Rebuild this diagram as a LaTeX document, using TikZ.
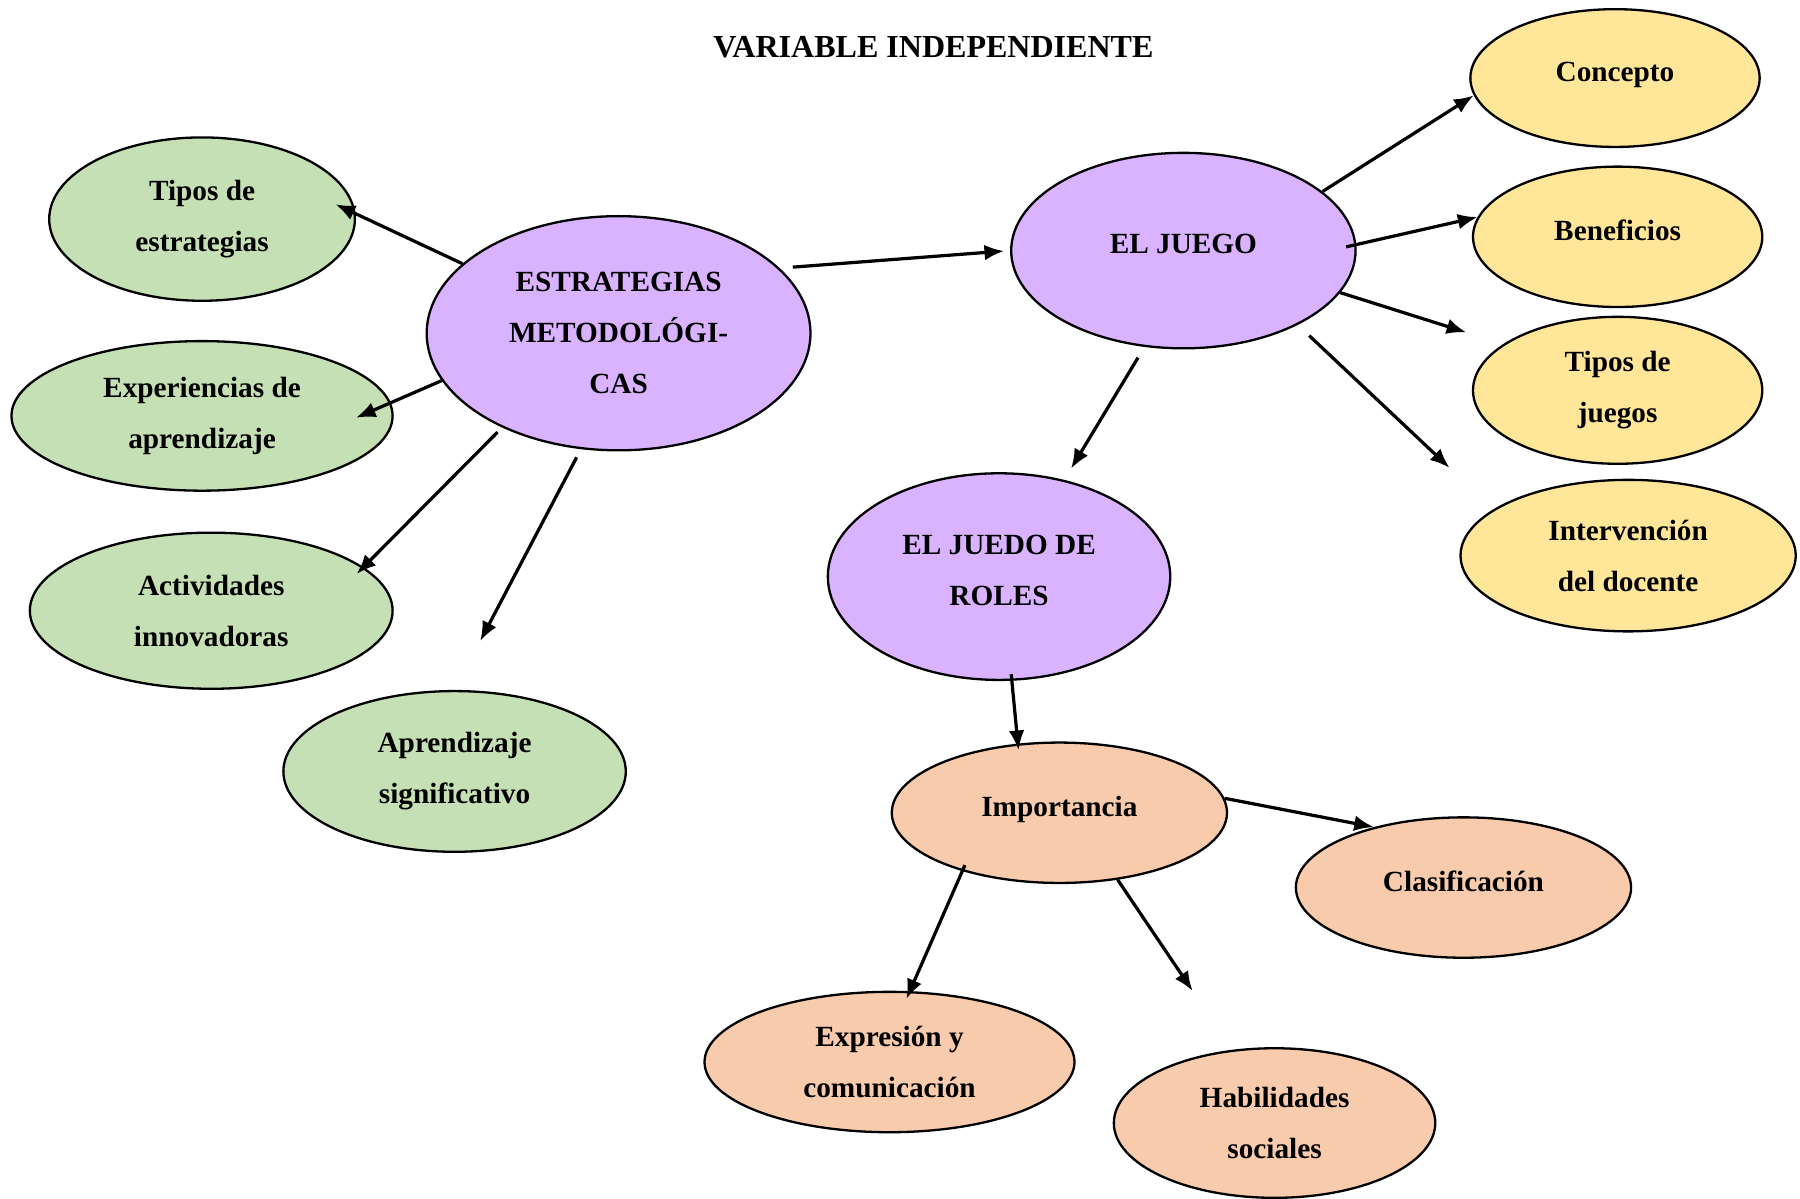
\documentclass[tikz,border=0pt]{standalone}
\usepackage{fontspec}
\setmainfont{Liberation Serif}
\usetikzlibrary{shapes.geometric,arrows.meta}
\definecolor{verde}{HTML}{C5E0B4}
\definecolor{lila}{HTML}{D9B3FF}
\definecolor{amarillo}{HTML}{FFE699}
\definecolor{durazno}{HTML}{F8CBAD}
\tikzset{
 nodo/.style
  = {ellipse, draw, line width=1pt, inner sep=0pt, align=center,
     font=\fontsize{12.7}{22.2}\selectfont\bfseries},
 nv/.style
  = {nodo, fill=verde},
 nm/.style
  = {nodo, fill=lila},
 na/.style
  = {nodo, fill=amarillo},
 nd/.style
  = {nodo, fill=durazno},
 sube/.style
  = {text depth=0.2cm},
 l/.style
  = {draw, line width=1.4pt, -{Latex[length=3mm,width=2.4mm]}},
}

\begin{document}
\begin{tikzpicture}
\useasboundingbox (0,0) rectangle (27.44,-18.27);

% Title
\node[font=\fontsize{13.9}{16}\selectfont\bfseries] (titulo) at (14.23,-0.72) {VARIABLE INDEPENDIENTE};

% Estrategias
\node[nm, minimum width=5.85cm, minimum height=3.57cm] (E) at (9.43,-5.08) {ESTRATEGIAS\\METODOLÓGI-\\CAS};
\node[nv, minimum width=4.66cm, minimum height=2.49cm] (E1) at (3.08,-3.34) {Tipos de\\estrategias};
\node[nv, minimum width=5.81cm, minimum height=2.28cm] (E2) at (3.08,-6.34) {Experiencias de\\aprendizaje};
\node[nv, minimum width=5.53cm, minimum height=2.38cm] (E3) at (3.22,-9.31) {Actividades\\innovadoras};
\node[nv, minimum width=5.22cm, minimum height=2.45cm] (E4) at (6.93,-11.76) {Aprendizaje\\significativo};

% El juego
\node[nm, sube, minimum width=5.25cm, minimum height=2.98cm] (J) at (18.04,-3.82) {EL JUEGO};
\node[na, sube, minimum width=4.41cm, minimum height=2.10cm] (J1) at (24.62,-1.19) {Concepto};
\node[na, sube, minimum width=4.41cm, minimum height=2.14cm] (J2) at (24.66,-3.61) {Beneficios};
\node[na, minimum width=4.41cm, minimum height=2.24cm] (J3) at (24.66,-5.95) {Tipos de\\juegos};
\node[na, minimum width=5.11cm, minimum height=2.31cm] (J4) at (24.82,-8.47) {Intervención\\del docente};

% Juego de roles
\node[nm, sube, minimum width=5.22cm, minimum height=3.15cm] (R) at (15.23,-8.79) {EL JUEDO DE\\ROLES};
\node[nd, sube, minimum width=5.11cm, minimum height=2.14cm] (I) at (16.15,-12.39) {Importancia};
\node[nd, sube, minimum width=5.11cm, minimum height=2.14cm] (I1) at (22.31,-13.53) {Clasificación};
\node[nd, minimum width=5.64cm, minimum height=2.14cm] (I2) at (13.56,-16.19) {Expresión y\\comunicación};
\node[nd, minimum width=4.90cm, minimum height=2.28cm] (I3) at (19.43,-17.12) {Habilidades\\sociales};

% Arrows
\draw[l, shorten >=-0.34cm] (E.156) -- (E1.2);
\draw[l, shorten >=-0.58cm] (E.195) -- (E2.4);
\draw[l, shorten <=0.1cm, shorten >=-0.15cm] (E.219) -- (E3.16);
\draw[l, shorten <=0.14cm, shorten >=0.84cm] (E.252) -- (E4.north);
\draw[l, shorten <=0.2cm, shorten >=0.09cm] (E.22) -- (J.west);

\draw[l] (J.23) -- (J1.187);
\draw[l, shorten <=-0.16cm] (J.2) -- (J2.172);
\draw[l, shorten >=0.59cm] (J.-15) -- (J3.158);
\draw[l, shorten <=0.24cm, shorten >=0.92cm] (J.-33) -- (J4.161);
\draw[l, shorten <=0.19cm, shorten >=0.2cm] (J.248) -- (R.56);

\draw[l, shorten <=-0.1cm, shorten >=-0.1cm] (R.277) -- (I.121);
\draw[l] (I.5) -- (I1.146);
\draw[l, shorten <=-0.1cm, shorten >=-0.13cm] (I.211) -- (I2.74);
\draw[l, shorten >=1.08cm] (I.311) -- (I3.120);

\end{tikzpicture}
\end{document}
